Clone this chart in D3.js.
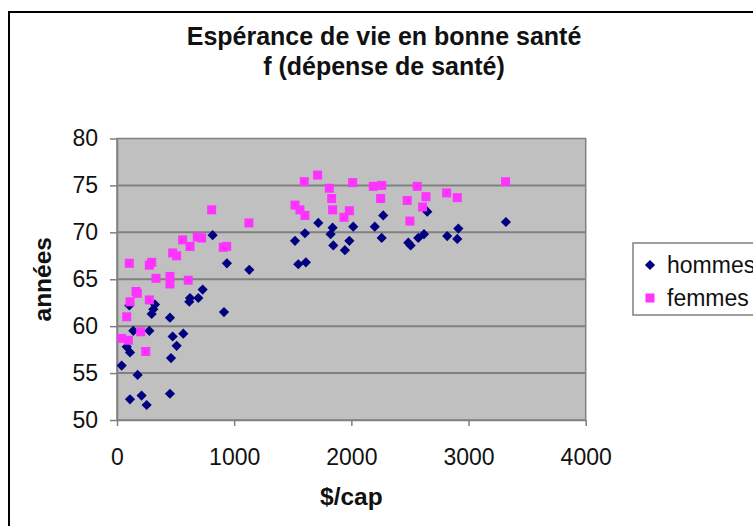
<!DOCTYPE html>
<html>
<head>
<meta charset="utf-8">
<script src="https://cdn.jsdelivr.net/npm/d3@7"></script>
<style>
  body { margin: 0; background: #fff; }
  svg { display: block; font-family: "Liberation Sans", Arial, sans-serif; }
</style>
</head>
<body>
<div id="chart"></div>
<script>
// data
const hommesDepense = [816, 938, 1129, 731, 694, 623, 617, 324, 310, 296, 105, 913, 452, 139, 276, 475, 566, 509, 83, 111, 461, 40, 176, 111, 210, 253, 452,
    1718, 1604, 1519, 1547, 1612, 1840, 1823, 1846, 2016, 1983, 1945, 2200, 2272, 2259, 2486, 2506, 2571, 2620, 2648, 2818, 2913, 2904, 3319];
const hommesAnnees = [69.7, 66.7, 66.0, 63.9, 63.0, 63.0, 62.6, 62.3, 61.8, 61.3, 62.2, 61.5, 60.9, 59.5, 59.5, 58.9, 59.2, 57.9, 57.8, 57.2, 56.6, 55.8, 54.8, 52.2, 52.6, 51.6, 52.8,
    71.0, 69.9, 69.1, 66.6, 66.8, 70.5, 69.8, 68.6, 70.6, 69.1, 68.1, 70.6, 71.8, 69.4, 68.9, 68.6, 69.4, 69.8, 72.2, 69.6, 70.4, 69.3, 71.1];

const femmesDepense = [808, 1126, 105, 276, 296, 560, 623, 685, 722, 907, 936, 475, 509, 333, 452, 452, 608, 162, 174, 111, 276, 83, 40, 97, 202, 245,
    1598, 1712, 1519, 1561, 1604, 1812, 1832, 1840, 2011, 1937, 1983, 2187, 2259, 2250, 2562, 2477, 2637, 2608, 2500, 2813, 2904, 3316];
const femmesAnnees = [72.4, 71.0, 66.7, 66.5, 66.8, 69.2, 68.5, 69.5, 69.4, 68.4, 68.5, 67.8, 67.5, 65.1, 65.3, 64.5, 64.9, 63.7, 63.5, 62.6, 62.8, 61.0, 58.7, 58.5, 59.4, 57.3,
    75.4, 76.1, 72.9, 72.4, 71.8, 74.7, 73.6, 72.4, 75.3, 71.6, 72.3, 74.9, 75.0, 73.6, 74.9, 73.4, 73.8, 72.7, 71.2, 74.2, 73.7, 75.4];

const xTicks = [0, 1000, 2000, 3000, 4000];
const yTicks = [50, 55, 60, 65, 70, 75, 80];
const seriesNames = ["hommes", "femmes"];

const width = 753, height = 526;
const plot = {left: 117, right: 585.7, top: 138.5, bottom: 420};

const svg = d3.select("#chart").append("svg")
    .attr("width", width)
    .attr("height", height);

// outer chart border (runs off the right and bottom edges)
svg.append("rect")
    .attr("x", 9).attr("y", 12)
    .attr("width", 900).attr("height", 700)
    .attr("fill", "#fff")
    .attr("stroke", "#000")
    .attr("stroke-width", 2);

const x = d3.scaleLinear().domain([0, 4000]).range([plot.left, plot.right]);
const y = d3.scaleLinear().domain([50, 80]).range([plot.bottom, plot.top]);

// plot area
svg.append("rect")
    .attr("x", plot.left).attr("y", plot.top)
    .attr("width", plot.right - plot.left)
    .attr("height", plot.bottom - plot.top)
    .attr("fill", "#c0c0c0")
    .attr("stroke", "#808080")
    .attr("stroke-width", 1.5);

// gridlines
svg.append("g").selectAll("line")
    .data(yTicks.slice(1, -1))
    .join("line")
    .attr("x1", plot.left).attr("x2", plot.right)
    .attr("y1", d => y(d)).attr("y2", d => y(d))
    .attr("stroke", "#808080")
    .attr("stroke-width", 2);

// axes
const yAxis = svg.append("g")
    .attr("transform", `translate(${plot.left},0)`)
    .call(d3.axisLeft(y).tickValues(yTicks).tickFormat(d3.format("d")).tickSize(7).tickPadding(12).tickSizeOuter(0));
const xAxis = svg.append("g")
    .attr("transform", `translate(0,${plot.bottom})`)
    .call(d3.axisBottom(x).tickValues(xTicks).tickFormat(d3.format("d")).tickSize(6).tickPadding(23).tickSizeOuter(0));

[xAxis, yAxis].forEach(a => {
    a.selectAll("path, line").attr("stroke", "#808080").attr("stroke-width", 1.5);
    a.selectAll("text")
        .attr("font-size", 23)
        .attr("font-family", "Liberation Sans, Arial, sans-serif")
        .attr("fill", "#111");
});

// points
const diamond = d3.symbol().type(d3.symbolSquare).size(52);
const square = d3.symbol().type(d3.symbolSquare).size(81);

svg.append("g").selectAll("path")
    .data(hommesDepense.map((d, i) => [d, hommesAnnees[i]]))
    .join("path")
    .attr("d", diamond)
    .attr("transform", d => `translate(${x(d[0])},${y(d[1])}) rotate(45)`)
    .attr("fill", "#000080");

svg.append("g").selectAll("path")
    .data(femmesDepense.map((d, i) => [d, femmesAnnees[i]]))
    .join("path")
    .attr("d", square)
    .attr("transform", d => `translate(${x(d[0])},${y(d[1])})`)
    .attr("fill", "#ff33ff");

// title
const title = svg.append("text")
    .attr("x", 384)
    .attr("text-anchor", "middle")
    .attr("font-size", 25)
    .attr("font-weight", "bold")
    .attr("fill", "#111");
title.append("tspan").attr("x", 384).attr("y", 45).text("Espérance de vie en bonne santé");
title.append("tspan").attr("x", 384).attr("y", 75).text("f (dépense de santé)");

// axis titles
svg.append("text")
    .attr("transform", `translate(51,${(plot.top + plot.bottom) / 2}) rotate(-90)`)
    .attr("text-anchor", "middle")
    .attr("font-size", 24.5)
    .attr("font-weight", "bold")
    .attr("fill", "#111")
    .text("années");

svg.append("text")
    .attr("x", (plot.left + plot.right) / 2)
    .attr("y", 505)
    .attr("text-anchor", "middle")
    .attr("font-size", 24.5)
    .attr("font-weight", "bold")
    .attr("fill", "#111")
    .text("$/cap");

// legend (cut off by the right edge, as in the original)
const legend = svg.append("g").attr("transform", "translate(633,243)");
legend.append("rect")
    .attr("width", 200).attr("height", 72)
    .attr("fill", "#fff")
    .attr("stroke", "#808080")
    .attr("stroke-width", 1.5);

const items = legend.selectAll("g.item")
    .data(seriesNames)
    .join("g")
    .attr("class", "item")
    .attr("transform", (d, i) => `translate(0,${22 + i * 33})`);

items.append("path")
    .attr("d", (d, i) => i === 0 ? diamond() : square())
    .attr("transform", (d, i) => i === 0 ? "translate(17,0) rotate(45)" : "translate(17,0)")
    .attr("fill", (d, i) => i === 0 ? "#000080" : "#ff33ff");

items.append("text")
    .attr("x", 34)
    .attr("dy", "0.35em")
    .attr("font-size", 23)
    .attr("fill", "#111")
    .text(d => d);
</script>
</body>
</html>
